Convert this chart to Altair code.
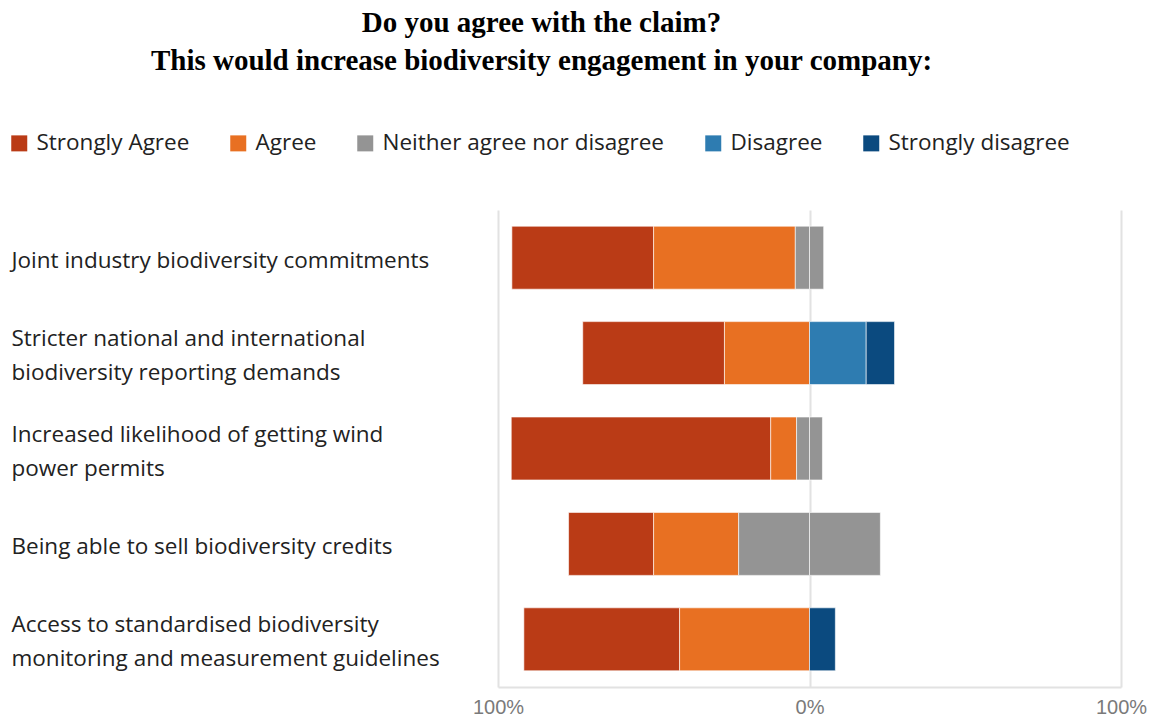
import altair as alt
import pandas as pd

# Survey statements ("|" marks a line break in the axis label)
statements = [
    "Joint industry biodiversity commitments",
    "Stricter national and international|biodiversity reporting demands",
    "Increased likelihood of getting wind|power permits",
    "Being able to sell biodiversity credits",
    "Access to standardised biodiversity|monitoring and measurement guidelines",
]
responses = ["Strongly Agree", "Agree", "Neither agree nor disagree", "Disagree", "Strongly disagree"]
colors = ["#BA3B16", "#E87022", "#949494", "#2E7CB1", "#0B4A7F"]

# Share of respondents (%) per statement
strongly_agree = [45.5, 45.5, 83.3, 27.3, 50.0]
agree = [45.5, 27.3, 8.3, 27.3, 41.7]
neither = [9.1, 0.0, 8.3, 45.5, 0.0]
disagree = [0.0, 18.2, 0.0, 0.0, 0.0]
strongly_disagree = [0.0, 9.1, 0.0, 0.0, 8.3]

# Diverging layout: agreement to the left of 0, disagreement to the right,
# the neutral share split evenly across the centre line.
rows = []
for i, s in enumerate(statements):
    half = neither[i] / 2
    segs = [
        ("Strongly Agree", -(strongly_agree[i] + agree[i] + half), -(agree[i] + half)),
        ("Agree", -(agree[i] + half), -half),
        ("Neither agree nor disagree", -half, 0.0),
        ("Neither agree nor disagree", 0.0, half),
        ("Disagree", half, half + disagree[i]),
        ("Strongly disagree", half + disagree[i], half + disagree[i] + strongly_disagree[i]),
    ]
    for resp, a, b in segs:
        if b - a > 0:
            rows.append({"statement": s, "response": resp, "start": a, "end": b})
df = pd.DataFrame(rows)

label_font = "Open Sans"
line_height = 34

chart = (
    alt.Chart(df)
    .mark_bar(stroke="white", strokeWidth=1, strokeOpacity=0.6)
    .encode(
        x=alt.X(
            "start:Q",
            scale=alt.Scale(domain=[-100, 100], nice=False),
            axis=alt.Axis(
                values=[-100, 0, 100],
                labelExpr="abs(datum.value) + '%'",
                title=None,
                grid=True,
                gridColor="#e2e2e2",
                gridWidth=2,
                domain=True,
                domainColor="#e2e2e2",
                domainWidth=2,
                ticks=False,
                labelPadding=10,
                labelFlush=False,
                labelOverlap=False,
                labelColor="#7a7a7a",
                labelFont="Liberation Sans",
                labelFontSize=20,
            ),
        ),
        x2="end:Q",
        y=alt.Y(
            "statement:N",
            sort=statements,
            scale=alt.Scale(paddingInner=0.34, paddingOuter=0.17),
            axis=alt.Axis(
                title=None,
                labelExpr="split(datum.label, '|')",
                labelAlign="left",
                labelBaseline="middle",
                # two-line labels are lifted by half a line so they sit centred on the bar
                labelOffset={
                    "condition": {
                        "test": "indexof(datum.value, '|') >= 0",
                        "value": 3 - line_height / 2,
                    },
                    "value": 3,
                },
                labelPadding=487,
                labelLimit=600,
                labelFont=label_font,
                labelFontSize=22.5,
                labelColor="#222222",
                labelLineHeight=line_height,
                ticks=False,
                domain=False,
                grid=False,
            ),
        ),
        color=alt.Color(
            "response:N",
            scale=alt.Scale(domain=responses, range=colors),
            legend=alt.Legend(
                title=None,
                orient="none",
                legendX=-490,
                legendY=-78,
                direction="horizontal",
                symbolType="square",
                symbolSize=256,
                symbolStrokeWidth=0,
                labelFont=label_font,
                labelFontSize=22.5,
                labelColor="#222222",
                labelOffset=6,
                columnPadding=37,
                labelLimit=500,
            ),
        ),
    )
    .properties(
        width=623,
        height=477,
        autosize=alt.AutoSizeParams(type="none"),
        padding={"left": 498, "top": 210, "right": 41, "bottom": 31},
        title=alt.TitleParams(
            text=[
                "Do you agree with the claim?",
                "This would increase biodiversity engagement in your company:",
            ],
            font="Liberation Serif",
            fontSize=29,
            fontWeight="bold",
            color="black",
            anchor="middle",
            align="center",
            dx=-268,
            lineHeight=38,
            offset=56,
        ),
    )
    .configure_view(stroke=None)
)

chart.save("out.html", embed_options={"renderer": "svg", "actions": False})
